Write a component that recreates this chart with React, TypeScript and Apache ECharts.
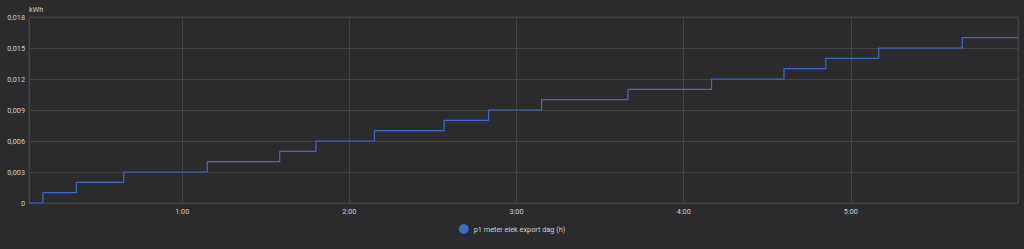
import React, { useEffect, useRef } from "react";
import * as echarts from "echarts";

const stepTimes = [
  "0:05", "0:10", "0:22", "0:39", "1:09", "1:35", "1:48", "2:09", "2:34",
  "2:50", "3:09", "3:40", "4:10", "4:36", "4:51", "5:10", "5:40", "6:00",
];
const stepValues = [
  0, 0.001, 0.002, 0.003, 0.004, 0.005, 0.006, 0.007, 0.008,
  0.009, 0.01, 0.011, 0.012, 0.013, 0.014, 0.015, 0.016, 0.016,
];
const seriesName = "p1 meter elek export dag (h)";
const yTicks = [0, 0.003, 0.006, 0.009, 0.012, 0.015, 0.018];
const xStart = "0:05";
const xEnd = "6:00";

function toTime(s: string): number {
  const [h, m] = s.split(":").map(Number);
  return new Date(2024, 0, 15, h, m, 0).getTime();
}

export default function App() {
  const ref = useRef<HTMLDivElement>(null);
  useEffect(() => {
    if (!ref.current) return;
    const chart = echarts.init(ref.current, null, { renderer: "svg" });
    const textColor = "#d0d0d0";
    const gridColor = "#444446";
    const fs = 7.3;
    chart.setOption({
      animation: false,
      backgroundColor: "#2b2b2d",
      textStyle: { fontFamily: "Roboto" },
      grid: {
        left: 29,
        right: 6,
        top: 17,
        bottom: 46,
        show: true,
        borderColor: gridColor,
        borderWidth: 1,
      },
      legend: {
        bottom: 10,
        left: "center",
        icon: "circle",
        itemWidth: 10,
        itemHeight: 10,
        itemGap: 10,
        textStyle: { color: textColor, fontSize: fs, fontFamily: "Roboto" },
        data: [seriesName],
      },
      xAxis: {
        type: "time",
        min: toTime(xStart),
        max: toTime(xEnd),
        minInterval: 3600000,
        maxInterval: 3600000,
        axisLine: { show: false },
        axisTick: { show: false },
        splitLine: { show: true, lineStyle: { color: gridColor, width: 1 } },
        axisLabel: {
          color: textColor,
          fontSize: fs,
          margin: 5,
          showMinLabel: false,
          showMaxLabel: false,
          formatter: (v: number) => {
            const d = new Date(v);
            return d.getHours() + ":" + String(d.getMinutes()).padStart(2, "0");
          },
        },
      },
      yAxis: {
        type: "value",
        min: yTicks[0],
        max: yTicks[yTicks.length - 1],
        interval: yTicks[1] - yTicks[0],
        name: "kWh",
        nameLocation: "end",
        nameGap: 4,
        nameTextStyle: { color: textColor, fontSize: fs, align: "left", padding: [0, 0, 0, 0] },
        axisLine: { show: false },
        axisTick: { show: false },
        splitLine: { show: true, lineStyle: { color: gridColor, width: 1 } },
        axisLabel: {
          color: textColor,
          fontSize: fs,
          margin: 4,
          formatter: (v: number) => (v === 0 ? "0" : v.toFixed(3).replace(".", ",")),
        },
      },
      series: [
        {
          name: seriesName,
          type: "line",
          step: "end",
          showSymbol: false,
          symbol: "none",
          color: "#4269d0",
          lineStyle: { color: "#4269d0", width: 1.2 },
          data: stepTimes.map((t, i) => [toTime(t), stepValues[i]]),
        },
      ],
    });
    return () => chart.dispose();
  }, []);
  return (
    <div
      ref={ref}
      style={{ position: "fixed", left: 0, top: 0, width: 1024, height: 249 }}
    />
  );
}
